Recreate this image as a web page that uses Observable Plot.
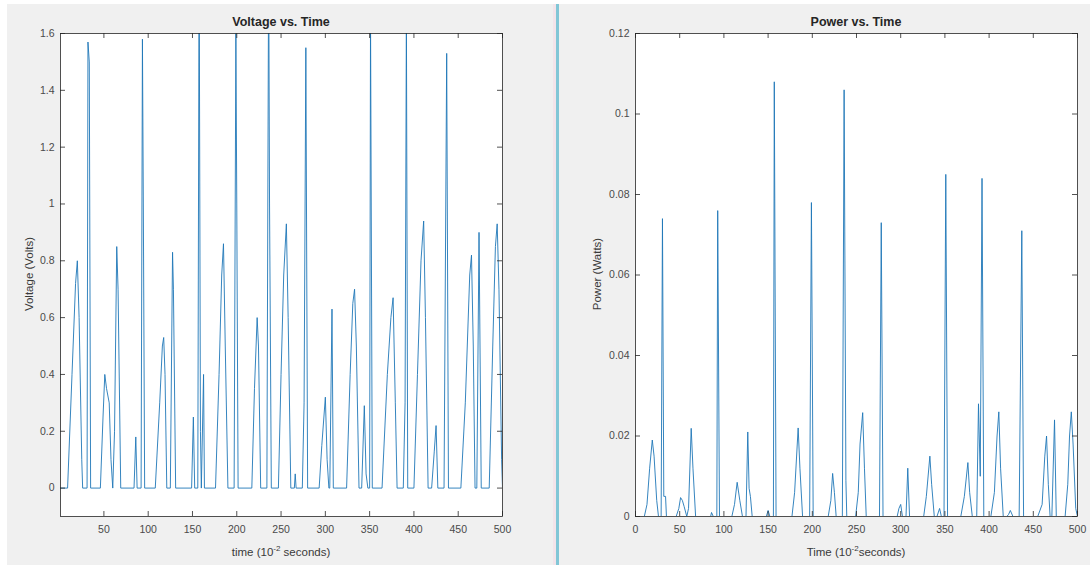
<!DOCTYPE html>
<html><head><meta charset="utf-8">
<script src="https://cdn.jsdelivr.net/npm/d3@7"></script>
<script src="https://cdn.jsdelivr.net/npm/@observablehq/plot@0.6"></script>
<style>
body{margin:0;background:#fff;width:1090px;height:565px;overflow:hidden;font-family:"Liberation Sans",Arial,Helvetica,sans-serif;}
#wrap{position:relative;width:1090px;height:565px;}
.bg{position:absolute;background:#f0f0f0;}
.t{position:absolute;color:#262626;white-space:nowrap;transform:translate(-50%,-50%);}
.ttl{font-weight:bold;font-size:12.5px;}
.lab{font-size:11.5px;color:#3a3a3a;}
.rot{transform:translate(-50%,-50%) rotate(-90deg);}
.chart{position:absolute;top:0;}
</style></head><body><div id="wrap">
<div class="bg" style="left:7px;top:4px;width:546px;height:561px"></div>
<div class="bg" style="left:553px;top:4px;width:3px;height:561px;background:#f3e4ea"></div>
<div class="bg" style="left:556px;top:4px;width:3px;height:561px;background:#82c6d6"></div>
<div class="bg" style="left:559px;top:4px;width:531px;height:561px"></div>
<div id="left" class="chart" style="left:0px"></div>
<div id="right" class="chart" style="left:560px"></div>
<div class="t ttl" style="left:281px;top:22px">Voltage vs. Time</div>
<div class="t ttl" style="left:856px;top:22px">Power vs. Time</div>
<div class="t lab" style="left:281px;top:551px">time (10<sup style="font-size:8px">-2</sup> seconds)</div>
<div class="t lab" style="left:856px;top:551px">Time (10<sup style="font-size:8px">-2</sup>seconds)</div>
<div class="t lab rot" style="left:29px;top:274px">Voltage (Volts)</div>
<div class="t lab rot" style="left:597px;top:274px">Power (Watts)</div>
</div>
<script>
// Voltage trace vertices (time in 10^-2 s, volts)
const voltTime = [1,9,14,18,20,22,25,26,31,32,33.5,35,46,49,51,53,56,58,60,62,64.5,66,69,84,86,87.5,92,93.5,94.5,96,108,113,116,117.5,119,121,125,127.5,128.5,131,149,151,152.5,156,157.5,159,160,162.5,163.5,176,180,183,185,187,190,197,199,200,201.5,217,220,223,224.5,227,234,236,237,239,247,250,253,256,258,261,265,266,267,274,276,278,280,293,296,300,302,304,305,307.5,309,324,328,331,333,335,338,341,344,346,348,350,351,353,364,370,374,376.5,379,381,388,390,391.5,393,400,404,408,411,413,416,420,423,425,427,434,437,439,453,458,463,465,467,469,471,473.5,476,485,489,492,494,496,499,500];
const voltValue = [0,0,0.4,0.72,0.8,0.6,0.1,0,0,1.57,1.5,0,0,0.25,0.4,0.35,0.3,0.1,0,0.2,0.85,0.7,0,0,0.18,0,0,1.58,1.0,0,0,0.3,0.5,0.53,0.4,0,0,0.83,0.7,0,0,0.25,0,0,1.89,0.2,0,0.4,0,0,0.4,0.75,0.86,0.5,0,0,1.6,1.0,0,0,0.35,0.6,0.5,0,0,1.87,1.0,0,0,0.4,0.75,0.93,0.6,0,0,0.05,0,0,0.3,1.55,0,0,0.15,0.32,0.1,0,0,0.63,0,0,0.4,0.65,0.7,0.5,0,0,0.29,0.05,0,0,1.67,0,0,0.4,0.6,0.67,0.3,0,0,0.3,1.66,0,0,0.4,0.8,0.94,0.6,0,0,0.13,0.22,0,0,1.53,0,0,0.3,0.75,0.82,0.5,0,0,0.9,0,0,0.5,0.85,0.93,0.7,0.1,0];
// Power trace vertices (time in 10^-2 s, watts)
const powerTime = [0,10,13,16,19,21,24,26,29,30.5,32,34,35,46,49,51,53,55,58,60,63,65,68,85,86,88,92,93,95,109,112,115,118,121,125,127,128.5,130,132,148,150,152,156,157,159,177,180,184,186,189,197,199,201,218,221,223,225,227,234,236,238,239,249,252,254,257,259,261,276,278,280,296,298,300,302,306,308,310,326,329,333,335,338,341,344,346,349,351,353,368,372,376,378,381,386,388,390,392,394,402,406,409,411,413,416,420,422,424,427,434,437,439,455,460,463,465,467,469,471,474,476,486,489,491,493,495,498,500];
const powerValue = [0,0,0.003,0.012,0.019,0.015,0.004,0,0,0.074,0.005,0.005,0,0,0.002,0.0047,0.004,0.0025,0,0.002,0.0219,0.012,0,0,0.001,0,0,0.076,0,0,0.003,0.0085,0.004,0,0,0.021,0.007,0.005,0,0,0.0015,0,0,0.108,0,0,0.006,0.022,0.012,0,0,0.078,0,0,0.004,0.0107,0.006,0,0,0.106,0.009,0,0,0.006,0.018,0.0258,0.012,0,0,0.073,0,0,0.002,0.003,0,0,0.012,0,0,0.005,0.015,0.008,0,0,0.002,0,0,0.085,0,0,0.005,0.0134,0.006,0,0,0.028,0.01,0.084,0,0,0.006,0.02,0.026,0.012,0,0,0.0005,0.0015,0,0,0.071,0,0,0.003,0.015,0.02,0.008,0,0,0.024,0,0,0.008,0.02,0.026,0.018,0.002,0];

const voltXTicks = [50,100,150,200,250,300,350,400,450,500];
const voltYTicks = [0,0.2,0.4,0.6,0.8,1,1.2,1.4,1.6];
const powerXTicks = [0,50,100,150,200,250,300,350,400,450,500];
const powerYTicks = [0,0.02,0.04,0.06,0.08,0.1,0.12];

function panel(el, {width, height, ml, mr, mt, mb, xDomain, yDomain, xs, ys, xt, yt}) {
  const fw = width - ml - mr, fh = height - mt - mb;
  const data = xs.map((x, i) => ({x, y: ys[i]}));
  const axisColor = "#262626";
  const chart = Plot.plot({
    width, height, marginLeft: ml, marginRight: mr, marginTop: mt, marginBottom: mb,
    style: {background: "transparent", fontSize: "10.5px", fontFamily: "'Liberation Sans', Arial, sans-serif", color: "#4a4a4a"},
    x: {domain: xDomain, ticks: xt},
    y: {domain: yDomain, ticks: yt},
    marks: [
      Plot.frame({fill: "white", stroke: null}),
      Plot.line(data, {x: "x", y: "y", stroke: "#1f77b8", strokeWidth: 0.9, clip: true}),
      Plot.tickX(xt, {x: d => d, insetTop: fh - 5, stroke: axisColor, strokeWidth: 0.8}),
      Plot.tickX(xt, {x: d => d, insetBottom: fh - 5, stroke: axisColor, strokeWidth: 0.8}),
      Plot.tickY(yt, {y: d => d, insetRight: fw - 5, stroke: axisColor, strokeWidth: 0.8}),
      Plot.tickY(yt, {y: d => d, insetLeft: fw - 5, stroke: axisColor, strokeWidth: 0.8}),
      Plot.axisX({ticks: xt, tickSize: 0, tickPadding: 9, label: null, tickFormat: d => String(d)}),
      Plot.axisY({ticks: yt, tickSize: 0, tickPadding: 6, label: null, tickFormat: d => String(d)}),
      Plot.frame({stroke: axisColor, strokeWidth: 0.8})
    ]
  });
  document.getElementById(el).appendChild(chart);
}

panel("left", {width: 555, height: 565, ml: 60, mr: 53, mt: 33, mb: 49,
  xDomain: [1, 500], yDomain: [-0.1, 1.6], xs: voltTime, ys: voltValue, xt: voltXTicks, yt: voltYTicks});
panel("right", {width: 530, height: 565, ml: 75, mr: 13, mt: 33, mb: 49,
  xDomain: [0, 500], yDomain: [0, 0.12], xs: powerTime, ys: powerValue, xt: powerXTicks, yt: powerYTicks});
</script>
</body></html>
